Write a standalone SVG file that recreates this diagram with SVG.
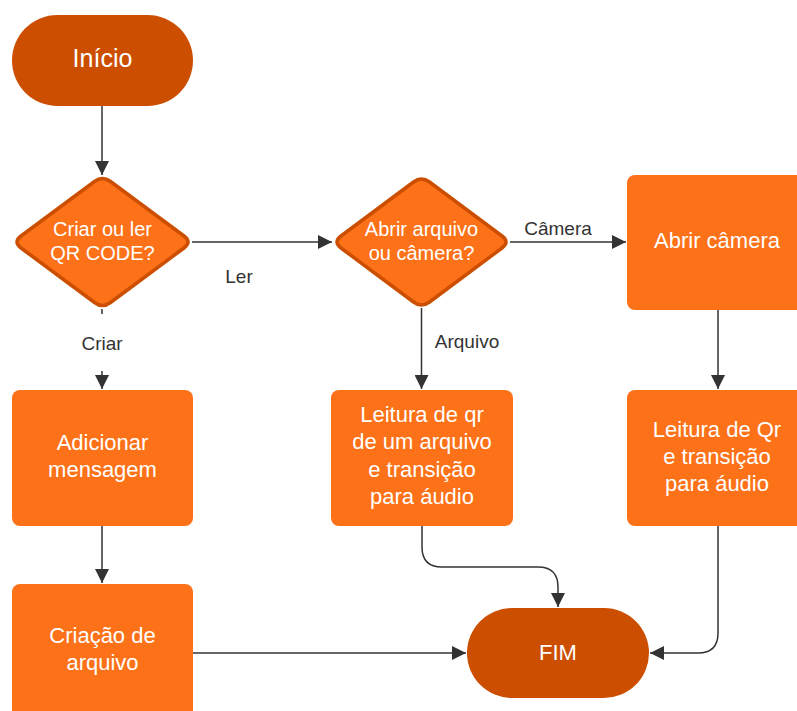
<svg xmlns="http://www.w3.org/2000/svg" width="797" height="711" viewBox="0 0 797 711">
<defs>
<style>
.term{fill:#cc4e00;}
.box{fill:#fd7118;}
.dia{fill:#fd7118;stroke:#cc4e00;stroke-width:3.5;stroke-linejoin:round;}
.t{font-family:"Liberation Sans",Arial,sans-serif;fill:#ffffff;text-anchor:middle;}
.lbl{font-family:"Liberation Sans",Arial,sans-serif;fill:#333333;font-size:19px;text-anchor:middle;}
.c{fill:none;stroke:#333333;stroke-width:1.5;marker-end:url(#ah);}
</style>
<marker id="ah" markerUnits="userSpaceOnUse" markerWidth="16" markerHeight="14" refX="14" refY="7" orient="auto">
<path d="M0,0 L14,7 L0,14 Z" fill="#333333"/>
</marker>
</defs>
<rect width="797" height="711" fill="#ffffff"/>
<g id="connectors">
<path class="c" d="M102,106 L102,175"/>
<path class="c" d="M192,242 L332,242"/>
<path class="c" d="M510,242 L626,242"/>
<path class="c" d="M421.5,308 L421.5,389"/>
<path class="c" d="M102,309 L102,389"/>
<path class="c" d="M718,310 L718,389"/>
<path class="c" d="M102,526 L102,583"/>
<path class="c" d="M193,653 L466,653"/>
<path class="c" d="M422,526 L422,547 Q422,567 442,567 L538,567 Q558,567 558,587 L558,607"/>
<path class="c" d="M718,526 L718,633 Q718,653 698,653 L650,653"/>
<rect x="76" y="314" width="52" height="57" fill="#ffffff"/>
<text class="lbl" x="239" y="283">Ler</text>
<text class="lbl" x="102" y="350">Criar</text>
<text class="lbl" x="558" y="235">Câmera</text>
<text class="lbl" x="467" y="348">Arquivo</text>
</g>
<g id="inicio">
<rect class="term" x="12" y="15" width="181" height="91" rx="45.5"/>
<text class="t" x="102.5" y="67" font-size="25">Início</text>
</g>
<g id="decisao1">
<path class="dia" d="M21,236 L94.5,181.5 Q102.5,175.5 110.5,181.5 L184,236 Q192,242 184,248 L110.5,302.5 Q102.5,308.5 94.5,302.5 L21,248 Q13,242 21,236 Z"/>
<text class="t" x="102.5" y="236" font-size="20">Criar ou ler</text>
<text class="t" x="102.5" y="260" font-size="20">QR CODE?</text>
</g>
<g id="decisao2">
<path class="dia" d="M341,236 L413.5,182 Q421.5,176 429.5,182 L502,236 Q510,242 502,248 L429.5,302 Q421.5,308 413.5,302 L341,248 Q333,242 341,236 Z"/>
<text class="t" x="421.5" y="236" font-size="20">Abrir arquivo</text>
<text class="t" x="421.5" y="260" font-size="20">ou câmera?</text>
</g>
<g id="abrir-camera">
<rect class="box" x="627" y="175" width="182" height="135" rx="8"/>
<text class="t" x="717" y="248" font-size="22">Abrir câmera</text>
</g>
<g id="adicionar">
<rect class="box" x="12" y="390" width="181" height="136" rx="8"/>
<text class="t" x="102.5" y="450" font-size="22">Adicionar</text>
<text class="t" x="102.5" y="477" font-size="22">mensagem</text>
</g>
<g id="leitura-arquivo">
<rect class="box" x="331" y="390" width="182" height="136" rx="8"/>
<text class="t" x="422" y="422" font-size="22">Leitura de qr</text>
<text class="t" x="422" y="449" font-size="22">de um arquivo</text>
<text class="t" x="422" y="477" font-size="22">e transição</text>
<text class="t" x="422" y="504" font-size="22">para áudio</text>
</g>
<g id="leitura-camera">
<rect class="box" x="627" y="390" width="182" height="136" rx="8"/>
<text class="t" x="717" y="437" font-size="22">Leitura de Qr</text>
<text class="t" x="717" y="464" font-size="22">e transição</text>
<text class="t" x="717" y="491" font-size="22">para áudio</text>
</g>
<g id="criacao">
<rect class="box" x="12" y="584" width="181" height="136" rx="8"/>
<text class="t" x="102.5" y="643" font-size="22">Criação de</text>
<text class="t" x="102.5" y="670" font-size="22">arquivo</text>
</g>
<g id="fim">
<rect class="term" x="467" y="608" width="182" height="90" rx="45"/>
<text class="t" x="558" y="660" font-size="22">FIM</text>
</g>
</svg>
